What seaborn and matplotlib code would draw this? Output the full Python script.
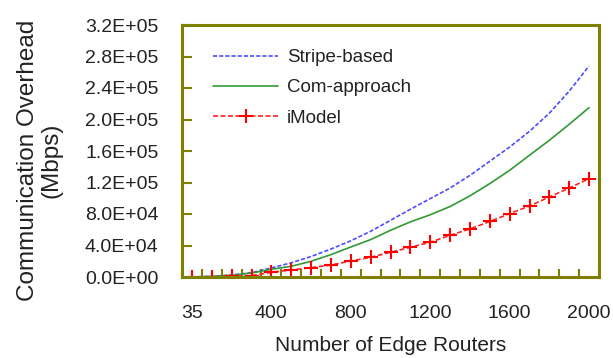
import matplotlib
matplotlib.use("Agg")
import matplotlib.pyplot as plt
import seaborn as sns
import numpy as np
import pandas as pd
from matplotlib.ticker import FixedLocator, FuncFormatter, NullFormatter

categories = [35, 100, 200, 300, 400, 500, 600, 700, 800, 900, 1000,
              1100, 1200, 1300, 1400, 1500, 1600, 1700, 1800, 1900, 2000]
stripe_based = [100, 800, 2500, 5500, 11500, 18000, 26000, 35500, 46000, 58000, 72000,
                86000, 99500, 113000, 129000, 147000, 165000, 185000, 208000, 236000, 268000]
com_approach = [100, 700, 2200, 5000, 9800, 13600, 19900, 28400, 38100, 47500, 59300,
                70000, 79000, 89500, 103000, 118600, 135500, 154600, 173600, 193900, 215100]
imodel = [100, 300, 900, 1700, 6000, 8900, 11900, 15200, 20300, 25000, 31400,
          37700, 44100, 53000, 61000, 70500, 80500, 90200, 101600, 113000, 124800]
shown_labels = [35, 400, 800, 1200, 1600, 2000]

sns.set_style("white")
plt.rcParams['font.family'] = ['Liberation Sans', 'DejaVu Sans']

pos = list(range(len(categories)))
df = pd.DataFrame({"pos": pos, "Stripe-based": stripe_based,
                   "Com-approach": com_approach, "iModel": imodel})

fig = plt.figure(figsize=(6.13, 3.58), dpi=100)
ax = fig.add_axes([182/613, 81/358, 417/613, 252/358])

sns.lineplot(data=df, x="pos", y="Stripe-based", ax=ax, color="#4d4dff",
             linewidth=1.2, label="Stripe-based")
ax.lines[-1].set_dashes((2.5, 1.2))
sns.lineplot(data=df, x="pos", y="Com-approach", ax=ax, color="#339933",
             linewidth=1.2, label="Com-approach")
sns.lineplot(data=df, x="pos", y="iModel", ax=ax, color="#ff2020",
             linewidth=1.2, marker="+", markersize=10, markeredgewidth=1.5,
             markeredgecolor="#ff0000", label="iModel")
ax.lines[-1].set_dashes((3, 1.5))

ax.set_xlim(-0.5, len(categories) - 0.5)
ax.set_ylim(0, 320000)

# category-axis style ticks: tick marks between categories, labels on selected categories
ax.xaxis.set_major_locator(FixedLocator(np.arange(-0.5, len(categories), 1.0)))
ax.xaxis.set_major_formatter(NullFormatter())
label_pos = [categories.index(v) for v in shown_labels]
ax.xaxis.set_minor_locator(FixedLocator(label_pos))
ax.xaxis.set_minor_formatter(FuncFormatter(lambda v, p: str(categories[int(round(v))])))
ax.tick_params(axis="x", which="major", direction="in", length=6, width=1.5,
               color="#808000", bottom=True)
ax.tick_params(axis="x", which="minor", length=0, pad=20, labelsize=14,
               labelcolor="#222222")

ax.set_yticks(np.arange(0, 320001, 40000))
ax.yaxis.set_major_formatter(FuncFormatter(lambda v, p: f"{v:.1E}"))
ax.tick_params(axis="y", direction="in", length=7, width=1.5, color="#808000",
               left=True, pad=17, labelsize=14, labelcolor="#222222")

for s in ax.spines.values():
    s.set_color("#808000")
    s.set_linewidth(2.2)
    s.set_visible(True)

ax.set_xlabel("Number of Edge Routers", fontsize=15, color="#222222")
ax.xaxis.set_label_coords(0.5, (277 - 336) / 252)
ax.set_ylabel("Communication Overhead\n(Mbps)", fontsize=17.5, color="#222222",
              linespacing=1.05)
ax.yaxis.set_label_coords((62 - 182) / 417, (277 - 160) / 252)

leg = ax.legend(loc="upper left", bbox_to_anchor=(0.074, 0.905), frameon=False,
                fontsize=13.5, handlelength=3.5, handletextpad=0.45,
                labelspacing=0.7, borderpad=0, borderaxespad=0)
for t in leg.get_texts():
    t.set_color("#222222")

fig.savefig("out.png", dpi=100)
